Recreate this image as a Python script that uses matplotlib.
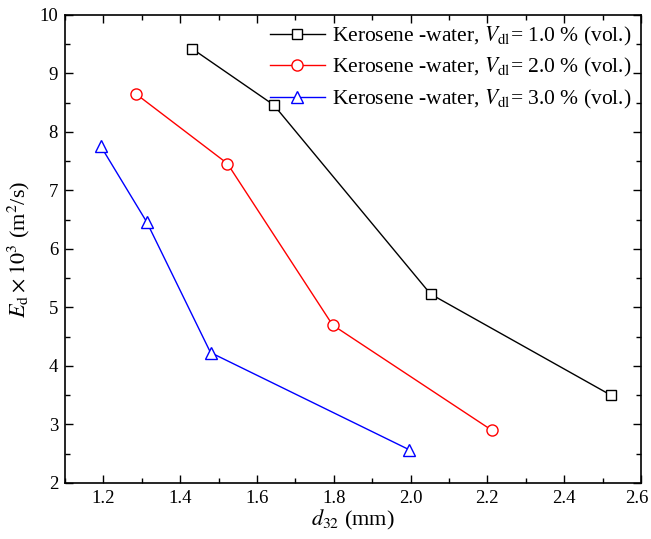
import matplotlib.pyplot as plt
from matplotlib.ticker import MultipleLocator, FormatStrFormatter
from matplotlib.transforms import ScaledTranslation

plt.rcParams['font.family'] = ['Liberation Serif', 'DejaVu Serif']
plt.rcParams['mathtext.fontset'] = 'stix'

# Sauter mean diameter d32 (mm) and dispersion coefficient Ed x 10^3 (m^2/s)
d32_v1 = [1.432, 1.644, 2.052, 2.522]
ed_v1 = [9.42, 8.46, 5.23, 3.50]
d32_v2 = [1.285, 1.523, 1.797, 2.212]
ed_v2 = [8.65, 7.46, 4.70, 2.90]
d32_v3 = [1.193, 1.313, 1.479, 1.996]
ed_v3 = [7.76, 6.46, 4.23, 2.57]
labels = ['Kerosene -water, $V_{\\mathrm{dl}}$= 1.0 % (vol.)',
          'Kerosene -water, $V_{\\mathrm{dl}}$= 2.0 % (vol.)',
          'Kerosene -water, $V_{\\mathrm{dl}}$= 3.0 % (vol.)']

fig = plt.figure(figsize=(6.51, 5.39), dpi=100)
ax = fig.add_axes([0.0998, 0.1039, 0.8848, 0.8683])

ax.plot(d32_v1, ed_v1, color='black', lw=1, marker='s', ms=7, mfc='white', mec='black', label=labels[0])
ax.plot(d32_v2, ed_v2, color='red', lw=1, marker='o', ms=8, mfc='white', mec='red', label=labels[1])
ax.plot(d32_v3, ed_v3, color='blue', lw=1, marker='^', ms=9, mfc='white', mec='blue', label=labels[2])

ax.set_xlim(1.1, 2.6)
ax.set_ylim(2, 10)
ax.xaxis.set_major_locator(MultipleLocator(0.2))
ax.xaxis.set_minor_locator(MultipleLocator(0.1))
ax.xaxis.set_major_formatter(FormatStrFormatter('%.1f'))
ax.yaxis.set_major_locator(MultipleLocator(1))
ax.yaxis.set_minor_locator(MultipleLocator(0.5))
ax.tick_params(which='both', direction='in', top=True, right=True, labelsize=13.5)
ax.tick_params(which='major', length=6, width=1, pad=5)
ax.tick_params(which='minor', length=3.5, width=1)
for s in ax.spines.values():
    s.set_linewidth(1.2)

ax.set_xlabel('$d_{32}$ (mm)', fontsize=16, labelpad=1)
ax.set_ylabel('$E_{\\mathrm{d}}\\times 10^3$ (m$^2$/s)', fontsize=16, labelpad=5)

ax.legend(loc='upper right', frameon=False, fontsize=15.5, handlelength=2.6,
          handletextpad=0.3, labelspacing=0.4, borderaxespad=0.25, borderpad=0.2)

# nudge the last x tick label so it stays inside the figure
fig.canvas.draw()
last = [t for t in ax.xaxis.get_major_ticks() if abs(t.get_loc() - 2.6) < 1e-6][0]
last.label1.set_transform(last.label1.get_transform() + ScaledTranslation(-3 / 72, 0, fig.dpi_scale_trans))

fig.savefig('out.png', dpi=100)
